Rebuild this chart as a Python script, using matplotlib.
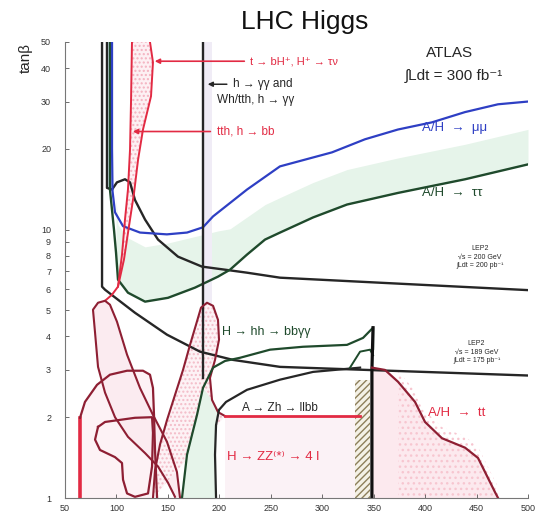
import numpy as np
import matplotlib
matplotlib.use("Agg")
import matplotlib.pyplot as plt

# ---------------- data (m_A in GeV, tan(beta)) ----------------
mumu_x = [95.7, 95.7, 96.2, 98.6, 106.4, 122.9, 149.0, 168.6, 184.1, 193.9, 226.9, 258.9, 309.5, 341.5, 373.6, 406.7, 438.7, 470.8, 500]
mumu_y = [50, 20, 13.9, 11.6, 10.3, 9.75, 9.6, 9.75, 10.2, 11.2, 14.1, 17.2, 19.4, 21.7, 23.6, 25.1, 27.4, 29.3, 30.0]

tautau_x = [93.7, 93.7, 97.6, 99.6, 101.5, 111.2, 127.8, 150.1, 176.4, 198.7, 210.4, 226.9, 244.4, 259, 291.1, 324.1, 373.7, 438.8, 500]
tautau_y = [50, 14.1, 10, 8.2, 6.51, 5.82, 5.39, 5.57, 6.08, 6.68, 7.09, 8.07, 9.18, 9.75, 11.1, 12.4, 13.7, 15.4, 17.5]

lep200_x = [90.8, 90.8, 95.7, 100.5, 108.3, 113.2, 118, 127.8, 140.4, 159.8, 183.1, 205.5, 226.9, 259, 356.2, 500]
lep200_y = [50, 14.3, 14.1, 15.0, 15.4, 15.0, 12.9, 10.9, 9.18, 7.93, 7.28, 7.09, 6.91, 6.62, 6.34, 5.95]

lep189_x = [86, 86, 88.9, 101.5, 118, 149.1, 181.2, 213.3, 259, 343.5, 500]
lep189_y = [50, 6.13, 5.97, 5.48, 4.9, 4.06, 3.51, 3.27, 3.08, 3.0, 2.86]

hgg_mass = 184.0
hgg_tanb = [2.8, 50]

tth_x = [115.1, 114.2, 113.2, 111.2, 108.3, 105.4, 101.5, 95.7, 88.9]
tth_y = [50, 30.5, 19.9, 14.1, 10.9, 8.07, 6.13, 5.72, 5.43]

chh_x = [132.6, 135.5, 133.6, 125.8, 121, 117.1, 112.2, 107.3, 101.5]
chh_y = [50, 42, 31.4, 23.6, 18.2, 13.7, 10.3, 7.73, 6.13]

s1_x = [64.6, 64.6, 69.4, 81.1, 93.7, 110.3, 125.8, 132.6, 135.5, 136.5, 137.5, 139.5]
s1_y = [1.0, 1.99, 2.28, 2.64, 2.88, 2.98, 2.98, 2.88, 2.57, 2.04, 1.5, 1.0]

s2_x = [82.1, 88.9, 101.5, 118, 134.6, 135.5, 134.6, 130.7, 118, 110.3, 106.4, 105.4, 98.6, 84, 79.2, 82.1]
s2_y = [1.84, 1.92, 1.95, 1.99, 2.0, 1.75, 1.31, 1.04, 1.01, 1.04, 1.17, 1.35, 1.42, 1.51, 1.65, 1.84]

s3_x = [156.9, 150.1, 140.4, 127.8, 111.2, 98.6, 88.9, 82.1, 79.2, 77.2, 82.1, 88.9, 93.7, 100.5, 110.3, 122.9, 135.5, 149.1, 158.8, 161.8]
s3_y = [1.01, 1.14, 1.31, 1.47, 1.69, 2.0, 2.47, 3.08, 4.13, 5.03, 5.34, 5.43, 5.25, 4.54, 3.42, 2.57, 2.04, 1.62, 1.25, 1.0]

loop_x = [135.5, 137.5, 142.3, 149.1, 156.9, 164.7, 171.5, 177.3, 182.2, 188, 193.9, 198.7, 199.7, 195.8, 190.9, 192.9, 198.7, 205.5]
loop_y = [1.0, 1.27, 1.58, 1.95, 2.42, 3.0, 3.72, 4.42, 5.12, 5.34, 5.2, 4.61, 3.89, 3.27, 2.8, 2.32, 2.09, 2.02]

azh_x = [196.8, 195.8, 196.8, 199.7, 206.5, 226.9, 259, 291.1, 336.8]
azh_y = [1.0, 1.45, 1.87, 2.13, 2.28, 2.53, 2.76, 2.95, 3.06]
azh_low_x = [205.5, 336.8]
azh_low_y = [2.02, 2.02]

hh_x = [163.7, 168.6, 178.3, 184.1, 193.9, 205.5, 220.1, 249.3, 281.3, 324.1, 339.7, 349.4, 349.4]
hh_y = [1.0, 1.45, 2.04, 2.57, 3.06, 3.24, 3.33, 3.57, 3.66, 3.72, 3.95, 4.31, 3.6]
tri_x = [327, 336.8, 346.5, 349.4]
tri_y = [3.06, 3.51, 3.57, 3.4]

zz_x = [349.4, 348.3, 348.3]
zz_y = [4.31, 3.0, 1.0]

tt_x = [348.3, 361, 373.7, 390.2, 399.9, 416.4, 438.8, 451.4, 458.2, 468, 470.9]
tt_y = [3.06, 3.0, 2.71, 2.28, 1.92, 1.67, 1.54, 1.41, 1.25, 1.05, 1.0]

xticks = [50, 100, 150, 200, 250, 300, 350, 400, 450, 500]
yticks = [1, 2, 3, 4, 5, 6, 7, 8, 9, 10, 20, 30, 40, 50]

# ---------------- styling ----------------
DARK = "#262626"
DGREEN = "#1f4a2c"
BLUE = "#2e3fc4"
DRED = "#8e1f33"
RED = "#e22a43"
PINK = "#fce9ee"
GREENF = "#e6f4ea"
# width (multiplicative) of the light-green band drawn above the tau-tau curve
band_width = np.array([1.6, 1.6, 1.6, 1.6, 1.6, 1.55, 1.48, 1.42, 1.38, 1.35, 1.35, 1.35, 1.35, 1.35, 1.35, 1.35])

FONT = ["Liberation Sans", "DejaVu Sans"]
plt.rcParams["font.family"] = FONT

fig = plt.figure(figsize=(5.35, 5.18), dpi=100)
ax = fig.add_axes([65 / 535, 20 / 518, 463 / 535, 456 / 518])
ax.set_yscale("log")
ax.set_xlim(50, 500)
ax.set_ylim(1, 50)

# ---- fills ----
ax.fill_between(tautau_x[3:], tautau_y[3:], np.array(tautau_y[3:]) * band_width, color=GREENF, lw=0, zorder=0)
ax.fill_betweenx([14, 50], [91.5, 91.5], [95.5, 95.5], color="#d3ebf3", lw=0, zorder=0)
ax.fill_betweenx([5.3, 50], [hgg_mass, hgg_mass], [hgg_mass + 9, hgg_mass + 9], color="#f0ecf6", lw=0, zorder=0)
ax.fill(list(tth_x) + list(chh_x[::-1]), list(tth_y) + list(chh_y[::-1]), facecolor="#fdf0f3",
        edgecolor="#f4b2c0", hatch="....", lw=0, zorder=0)
ax.fill(s1_x, s1_y, color="#fdf2f5", lw=0, zorder=0)
ax.fill(s3_x, s3_y, color="#fbebf0", lw=0, zorder=0)
ax.fill(loop_x, loop_y, facecolor="#fdf2f5", edgecolor="#f3bcc8", hatch="....", lw=0, zorder=0)
ax.fill(list(hh_x[:4]) + list(azh_x[:4][::-1]), list(hh_y[:4]) + list(azh_y[:4][::-1]), color=GREENF, lw=0, zorder=0)
ax.fill_between([205.5, 331.9], [1, 1], [2.02, 2.02], color="#fbf2f6", lw=0, zorder=0)
ax.fill_between([331.9, 346.5], [1, 1], [2.75, 2.75], facecolor="#f4f1e6", edgecolor="#8d7f5a",
                hatch="/////", lw=0, zorder=0)
ax.fill_between(tt_x, [1] * len(tt_x), tt_y, color=PINK, lw=0, zorder=0)
ax.fill_between(tt_x[2:], [1] * len(tt_x[2:]), np.array(tt_y[2:]) * 1.1, facecolor="none",
                edgecolor="#f7c6d0", hatch="...", lw=0, zorder=0)

# ---- curves ----
ax.plot(lep189_x, lep189_y, color=DARK, lw=1.7)
ax.plot(lep200_x, lep200_y, color=DARK, lw=1.7)
ax.plot(tautau_x, tautau_y, color=DGREEN, lw=1.7)
ax.plot(mumu_x, mumu_y, color=BLUE, lw=1.6)
ax.plot([hgg_mass, hgg_mass], hgg_tanb, color=DARK, lw=1.7)
ax.plot(tth_x, tth_y, color=RED, lw=1.4)
ax.plot(chh_x, chh_y, color=RED, lw=1.4)
ax.plot(s1_x[:2], s1_y[:2], color=RED, lw=2.6)
ax.plot(s1_x[1:], s1_y[1:], color=DRED, lw=1.6)
ax.plot(s2_x, s2_y, color=DRED, lw=1.6)
ax.plot(s3_x, s3_y, color=DRED, lw=1.5)
ax.plot(loop_x, loop_y, color=DRED, lw=1.5)
ax.plot(azh_x, azh_y, color=DARK, lw=1.6)
ax.plot(azh_low_x, azh_low_y, color=RED, lw=2.0)
ax.plot(hh_x, hh_y, color=DGREEN, lw=1.6)
ax.plot(tri_x, tri_y, color=DGREEN, lw=1.4)
ax.plot(zz_x, zz_y, color="#111111", lw=2.3)
ax.plot(tt_x, tt_y, color=DRED, lw=1.6)

# ---- labels ----
ax.annotate("", xy=(134.5, 42.4), xytext=(227, 42.4),
            arrowprops=dict(arrowstyle="-|>", color=RED, lw=1.2, mutation_scale=7))
ax.text(229.8, 42.4, "t → bH⁺, H⁺ → τν", color=RED, fontsize=8, va="center", ha="left")
ax.annotate("", xy=(113.2, 23.2), xytext=(194, 23.2),
            arrowprops=dict(arrowstyle="-|>", color=RED, lw=1.2, mutation_scale=7))
ax.text(197.8, 23.2, "tth, h → bb", color=RED, fontsize=8.5, va="center", ha="left")
ax.annotate("", xy=(186, 34.8), xytext=(210, 34.8),
            arrowprops=dict(arrowstyle="-|>", color=DARK, lw=1.1, mutation_scale=7))
ax.text(213.3, 34.8, "h → γγ and", color=DARK, fontsize=8.5, va="center", ha="left")
ax.text(197.8, 30.3, "Wh/tth, h → γγ", color=DARK, fontsize=8.5, va="center", ha="left")

ax.text(424, 45.5, "ATLAS", color=DARK, fontsize=11, ha="center", va="center")
ax.text(428, 37.5, "∫Ldt = 300 fb⁻¹", color=DARK, fontsize=11, ha="center", va="center")

ax.text(397, 24, "A/H  →  μμ", color=BLUE, fontsize=9.5, ha="left", va="center")
ax.text(397, 13.7, "A/H  →  ττ", color=DGREEN, fontsize=9.5, ha="left", va="center")

ax.text(453, 7.9, "LEP2\n√s = 200 GeV\n∫Ldt = 200 pb⁻¹", color=DARK, fontsize=5,
        ha="center", va="center", linespacing=1.3)
ax.text(450, 3.5, "LEP2\n√s = 189 GeV\n∫Ldt = 175 pb⁻¹", color=DARK, fontsize=5,
        ha="center", va="center", linespacing=1.3)

ax.text(202.6, 4.16, "H → hh → bbγγ", color=DGREEN, fontsize=9, ha="left", va="center")
ax.text(222, 2.17, "A → Zh → llbb", color=DARK, fontsize=8.5, ha="left", va="center")
ax.text(207.5, 1.42, "H → ZZ⁽*⁾ → 4 l", color=RED, fontsize=9.5, ha="left", va="center")
ax.text(402.7, 2.08, "A/H  →  tt", color=RED, fontsize=9.5, ha="left", va="center")

# ---- axes ----
ax.set_xticks(xticks)
ax.set_xticklabels([str(v) for v in xticks])
ax.set_yticks(yticks)
ax.set_yticklabels([str(v) for v in yticks])
ax.yaxis.set_minor_locator(matplotlib.ticker.NullLocator())
ax.tick_params(axis="both", direction="in", length=3, width=0.6, colors="#555555",
               labelsize=6.5, labelcolor="#333333")
ax.tick_params(axis="y", pad=10)
ax.tick_params(axis="x", pad=4)
for s in ["top", "right"]:
    ax.spines[s].set_visible(False)
for s in ["left", "bottom"]:
    ax.spines[s].set_color("#777777")
    ax.spines[s].set_linewidth(0.8)

fig.text(26 / 535, 1 - 58 / 518, "tanβ", rotation=90, fontsize=11, ha="center", va="center", color=DARK)
fig.text(0.57, 0.958, "LHC Higgs", fontsize=19, ha="center", va="center", color="#111111")

fig.savefig("out.png", dpi=100)
